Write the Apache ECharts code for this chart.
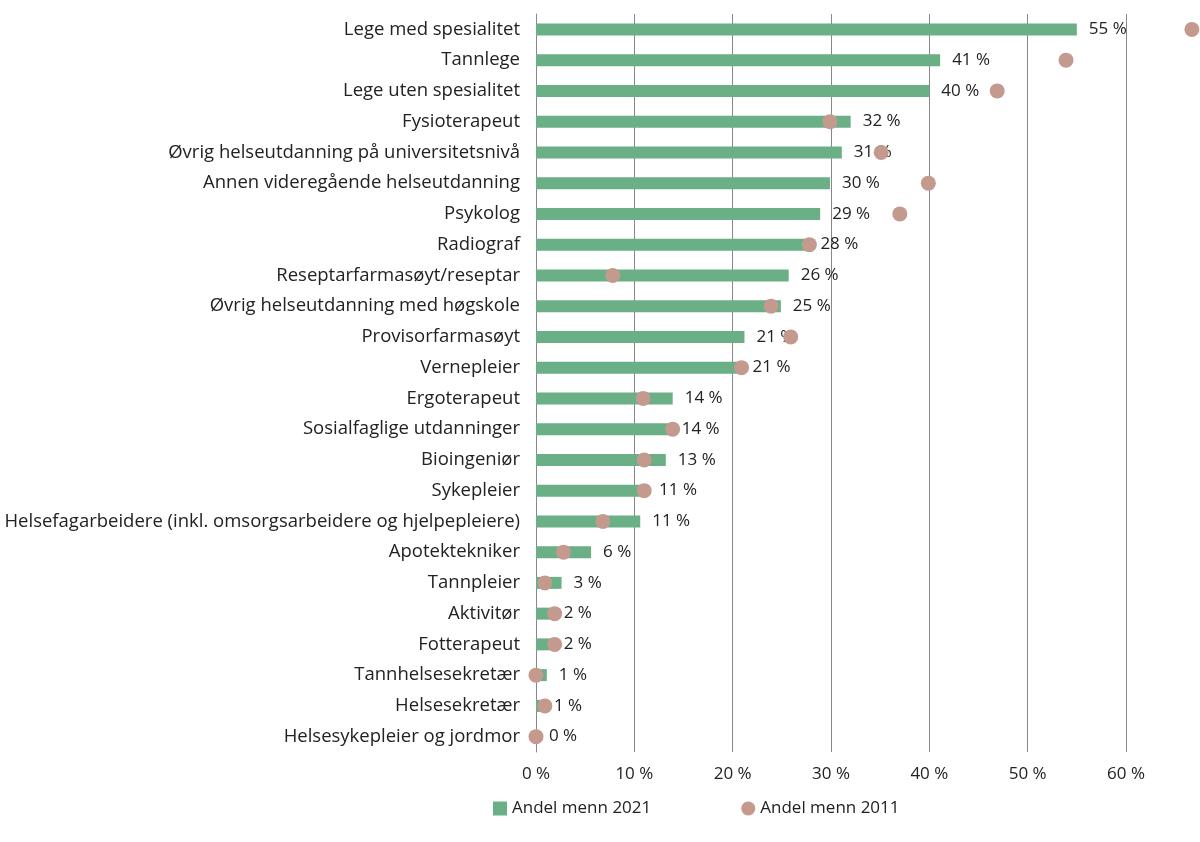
<!DOCTYPE html><html><head><meta charset="utf-8"><script src="https://cdn.jsdelivr.net/npm/echarts@6/dist/echarts.min.js"></script></head><body style="margin:0"><div id="c" style="width:1200px;height:842px"></div><script>
const categories=["Lege med spesialitet","Tannlege","Lege uten spesialitet","Fysioterapeut","Øvrig helseutdanning på universitetsnivå","Annen videregående helseutdanning","Psykolog","Radiograf","Reseptarfarmasøyt/reseptar","Øvrig helseutdanning med høgskole","Provisorfarmasøyt","Vernepleier","Ergoterapeut","Sosialfaglige utdanninger","Bioingeniør","Sykepleier","Helsefagarbeidere (inkl. omsorgsarbeidere og hjelpepleiere)","Apotektekniker","Tannpleier","Aktivitør","Fotterapeut","Tannhelsesekretær","Helsesekretær","Helsesykepleier og jordmor"];
const men2021=[55,41.1,40,32,31.1,29.9,28.9,27.7,25.7,24.9,21.2,20.8,13.9,13.6,13.2,11.3,10.6,5.6,2.6,1.6,1.6,1.1,0.6,0.1];
const men2011=[66.7,53.9,46.9,29.9,35.1,39.9,37,27.8,7.8,23.9,25.9,20.9,10.9,13.9,11,11,6.8,2.8,0.9,1.9,1.9,0,0.9,0];
const font='"Open Sans", sans-serif';
const ch=echarts.init(document.getElementById('c'));
ch.setOption({
 textStyle:{fontFamily:font},
 legend:{bottom:20,left:488,itemGap:90,itemWidth:14,itemHeight:14,textStyle:{fontSize:17,color:'#222',fontFamily:font},
  data:[{name:'Andel menn 2021',icon:'rect'},{name:'Andel menn 2011',icon:'circle'}]},
 grid:{left:536,right:74,top:14,bottom:90},
 xAxis:{type:'value',min:0,max:60,interval:10,axisLabel:{formatter:v=>v+' %',fontSize:17,color:'#222',margin:14},
  splitLine:{lineStyle:{color:'#888'}},axisLine:{show:false},axisTick:{show:false}},
 yAxis:{type:'category',inverse:true,data:categories,axisLine:{show:true,lineStyle:{color:'#888'}},axisTick:{show:false},
  axisLabel:{fontSize:18.5,color:'#222',margin:16}},
 series:[
  {name:'Andel menn 2021',type:'bar',data:men2021,barWidth:12,itemStyle:{color:'#6aaf86'},
   label:{show:true,position:'right',distance:12,fontSize:17,color:'#222',formatter:p=>Math.round(p.value)+' %'}},
  {name:'Andel menn 2011',type:'scatter',data:men2011,symbolSize:15,clip:false,itemStyle:{color:'#c49a8f',opacity:1},z:5}
 ]});
</script></body></html>
